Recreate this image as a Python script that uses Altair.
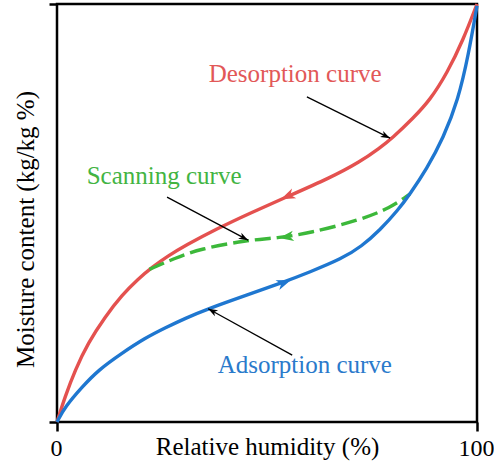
import math
import altair as alt
import numpy as np
import pandas as pd

# Desorption branch (upper curve)
desorp_rh = [0, 1.9, 4.3, 7.4, 11.4, 15.5, 19.3, 22.6, 26.4, 30.5, 38.0, 46.0, 54.8, 65.0, 72.1, 76.9, 79.8, 84.8, 88.8, 92.9, 96.7, 100]
desorp_mc = [0, 6.0, 12.4, 18.9, 25.1, 30.4, 34.2, 37.0, 39.7, 42.2, 46.2, 50.0, 53.9, 58.4, 62.2, 65.6, 67.9, 72.7, 77.0, 83.5, 91.4, 100]

# Adsorption branch (lower curve)
adsorp_rh = [0, 1.9, 6.0, 9.8, 15.5, 21.0, 25.7, 30.5, 36.0, 45.0, 53.8, 60.0, 67.9, 72.5, 76.9, 81.2, 84.0, 88.0, 92.0, 95.5, 98.0, 100]
adsorp_mc = [0, 3.6, 8.4, 12.4, 16.5, 20.1, 22.5, 24.8, 27.1, 30.3, 33.4, 35.8, 39.1, 42.0, 45.9, 50.7, 54.5, 60.5, 68.0, 77.0, 88.0, 99.6]

# Scanning curve between the two branches
scan_rh = [22.0, 28.1, 34.0, 45.2, 52.4, 60.2, 72.1, 79.3, 84.0]
scan_mc = [36.5, 39.2, 41.4, 43.5, 44.0, 45.2, 48.3, 51.2, 54.5]

# Direction arrows on the curves: tip position and travel direction
flow_rh = [53.3, 52.9, 55.7]
flow_mc = [53.3, 44.0, 34.0]
flow_curve = ["desorption", "scanning", "adsorption"]
flow_reverse = [True, True, False]

# Callout labels and their leader lines
label_text = ["Desorption curve", "Scanning curve", "Adsorption curve"]
label_rh = [56.7, 25.5, 59.0]
label_mc = [81.3, 56.9, 11.7]
leader_rh = [59.5, 26.2, 56.0]
leader_mc = [77.8, 53.8, 16.0]
leader_rh2 = [79.3, 45.5, 36.0]
leader_mc2 = [67.9, 43.5, 27.1]

RED, GREEN, BLUE = "#e4514f", "#3cb83a", "#1f77d0"
TEXT_COLORS = ["#e25858", "#42b442", "#2a7acb"]
FONT = "'Liberation Serif', 'Times New Roman', 'DejaVu Serif', serif"

W, H = 420, 418
PX_X, PX_Y = W / 100, H / 100
# stealth-style arrowhead with its tip at the origin, pointing up
ARROW = "M0,0 L0.72,2 L0,1.45 L-0.72,2 Z"

curves = {
    "desorption": (desorp_rh, desorp_mc),
    "scanning": (scan_rh, scan_mc),
    "adsorption": (adsorp_rh, adsorp_mc),
}


def heading(dx, dy):
    """Clockwise screen angle from 'up' for a data-space direction."""
    sx, sy = dx * PX_X, -dy * PX_Y
    return math.degrees(math.atan2(sx, -sy)) % 360


def curve_heading(name, at, reverse):
    xs, ys = curves[name]
    i = max(0, min(len(xs) - 2, int(np.searchsorted(xs, at)) - 1))
    dx, dy = xs[i + 1] - xs[i], ys[i + 1] - ys[i]
    if reverse:
        dx, dy = -dx, -dy
    return heading(dx, dy)


def xenc(field="rh"):
    return alt.X(
        f"{field}:Q",
        scale=alt.Scale(domain=[0, 100], nice=False, zero=False),
        axis=alt.Axis(
            values=[0, 100], title="Relative humidity (%)", grid=False, domain=False,
            ticks=True, tickSize=9, tickWidth=2.5, tickColor="black",
            labelFont=FONT, labelFontSize=24, labelColor="black", labelBaseline="alphabetic",
            labelPadding=24, labelFlush=False, labelAlign="center", labelOffset=-1,
            titleFont=FONT, titleFontSize=25, titleFontWeight="normal", titleColor="black",
            titleBaseline="alphabetic", titleY=32, titleX=W / 2,
        ),
    )


def yenc(field="mc"):
    return alt.Y(
        f"{field}:Q",
        scale=alt.Scale(domain=[0, 100], nice=False, zero=False),
        axis=alt.Axis(
            values=[0, 100], labels=False, title="Moisture content (kg/kg %)", grid=False,
            domain=False, ticks=True, tickSize=8, tickWidth=2.5, tickColor="black",
            titleFont=FONT, titleFontSize=25, titleFontWeight="normal", titleColor="black",
            titleAngle=270, titleAlign="center", titleBaseline="alphabetic",
            titleX=-24, titleY=225,
        ),
    )


def line_layer(xs, ys, color, dash=None):
    df = pd.DataFrame({"rh": xs, "mc": ys})
    kw = dict(color=color, strokeWidth=3.4, interpolate="basis", strokeCap="butt")
    if dash:
        kw["strokeDash"] = dash
    return alt.Chart(df).mark_line(**kw).encode(x=xenc(), y=yenc())


red_line = line_layer(desorp_rh, desorp_mc, RED)
scan_line = line_layer(scan_rh, scan_mc, GREEN, dash=[16, 6])
blue_line = line_layer(adsorp_rh, adsorp_mc, BLUE)

flow_df = pd.DataFrame({
    "rh": flow_rh,
    "mc": flow_mc,
    "angle": [curve_heading(c, x, r) for c, x, r in zip(flow_curve, flow_rh, flow_reverse)],
    "color": [RED, GREEN, BLUE],
})
flow_heads = alt.Chart(flow_df).mark_point(
    shape=ARROW, filled=True, opacity=1, size=210, strokeWidth=0
).encode(
    x=xenc(), y=yenc(),
    angle=alt.Angle("angle:Q", scale=None),
    color=alt.Color("color:N", scale=None),
)

leader_df = pd.DataFrame({
    "rh": leader_rh, "mc": leader_mc, "rh2": leader_rh2, "mc2": leader_mc2,
})
leaders = alt.Chart(leader_df).mark_rule(color="black", strokeWidth=1.3).encode(
    x=xenc(), y=yenc(), x2="rh2:Q", y2="mc2:Q",
)

tip_df = pd.DataFrame({
    "rh": leader_rh2,
    "mc": leader_mc2,
    "angle": [heading(b - a, d - c) for a, b, c, d in zip(leader_rh, leader_rh2, leader_mc, leader_mc2)],
})
leader_tips = alt.Chart(tip_df).mark_point(
    shape=ARROW, filled=True, opacity=1, size=90, strokeWidth=0, color="black"
).encode(
    x=xenc(), y=yenc(),
    angle=alt.Angle("angle:Q", scale=None),
)

label_df = pd.DataFrame({
    "rh": label_rh, "mc": label_mc, "text": label_text, "color": TEXT_COLORS,
})
labels = alt.Chart(label_df).mark_text(
    font=FONT, fontSize=25, align="center", baseline="alphabetic"
).encode(
    x=xenc(), y=yenc(), text="text:N",
    color=alt.Color("color:N", scale=None),
)

chart = alt.layer(
    red_line, scan_line, blue_line, flow_heads, leaders, leader_tips, labels
).properties(
    width=W, height=H,
    autosize=alt.AutoSizeParams(type="none"),
    padding={"left": 57, "top": 4, "right": 17, "bottom": 45},
    background="white",
).configure_view(
    stroke="black", strokeWidth=2.5,
)

chart.save("out.html", embed_options={"renderer": "svg", "actions": False})
